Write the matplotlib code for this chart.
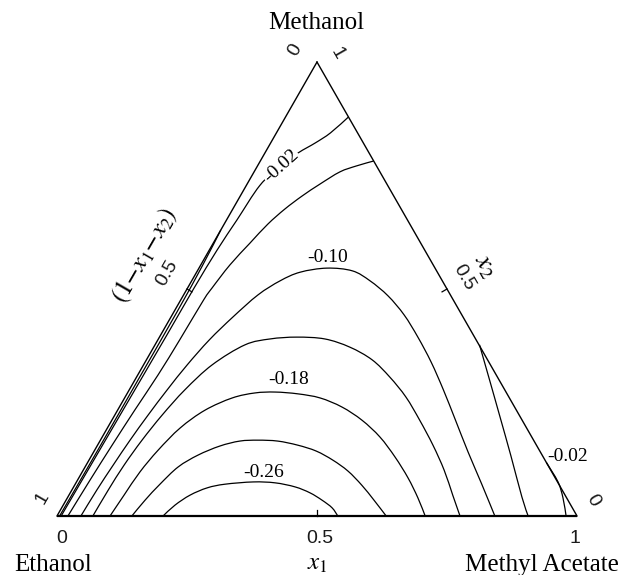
import matplotlib
matplotlib.use("Agg")
import matplotlib.pyplot as plt
from matplotlib.path import Path
from matplotlib.patches import PathPatch
import numpy as np

plt.rcParams['font.family'] = ['Liberation Serif', 'DejaVu Serif']
plt.rcParams['mathtext.fontset'] = 'stix'

# ---- data -------------------------------------------------------------
# vertex components: x1 = methyl acetate, x2 = methanol, 1-x1-x2 = ethanol
vertex_names = ["Ethanol", "Methyl Acetate", "Methanol"]
edge_tick_labels = ["0", "0.5", "1"]

# contour branches, each point is (x1, x2)
c02_upper = [(0.008, 0.0), (0.010, 0.2), (0.012, 0.4), (0.0125, 0.5),
             (0.015, 0.586), (0.020, 0.652), (0.026, 0.728), (0.044, 0.771),
             (0.064, 0.800), (0.086, 0.822), (0.104, 0.844), (0.121, 0.879)]
c02_edge = [(0.005, 0.0), (0.006, 0.15), (0.006, 0.30), (0.006, 0.45),
            (0.004, 0.55), (0.0, 0.63)]
c02_right = [(0.882, 0.118), (0.926, 0.075), (0.953, 0.040), (0.979, 0.0)]

c06_upper = [(0.021, 0.0), (0.024, 0.079), (0.028, 0.156), (0.033, 0.234),
             (0.039, 0.311), (0.042, 0.388), (0.044, 0.476), (0.047, 0.502),
             (0.056, 0.553), (0.0705, 0.601), (0.084, 0.643), (0.100, 0.676),
             (0.119, 0.705), (0.140, 0.731), (0.165, 0.758), (0.190, 0.771),
             (0.218, 0.782)]
c06_right = [(0.624, 0.377), (0.684, 0.297), (0.743, 0.218), (0.807, 0.132),
             (0.873, 0.042), (0.906, 0.0)]

c10 = [(0.046, 0.0), (0.048, 0.057), (0.052, 0.112), (0.057, 0.167),
       (0.064, 0.222), (0.073, 0.278), (0.084, 0.333), (0.099, 0.388),
       (0.119, 0.438), (0.143, 0.487), (0.170, 0.518), (0.199, 0.537),
       (0.246, 0.546), (0.298, 0.540), (0.343, 0.518), (0.394, 0.485),
       (0.446, 0.443), (0.497, 0.394), (0.550, 0.339), (0.604, 0.278),
       (0.660, 0.212), (0.720, 0.141), (0.781, 0.071), (0.842, 0.0)]
c14 = [(0.069, 0.0), (0.070, 0.057), (0.073, 0.112), (0.080, 0.167),
       (0.091, 0.222), (0.107, 0.278), (0.132, 0.333), (0.173, 0.377),
       (0.215, 0.390), (0.264, 0.394), (0.320, 0.390), (0.377, 0.372),
       (0.434, 0.344), (0.487, 0.306), (0.540, 0.262), (0.592, 0.211),
       (0.645, 0.156), (0.694, 0.101), (0.738, 0.046), (0.775, 0.0)]
c18 = [(0.102, 0.0), (0.106, 0.046), (0.111, 0.097), (0.122, 0.145),
       (0.140, 0.194), (0.168, 0.233), (0.207, 0.260), (0.245, 0.271),
       (0.283, 0.273), (0.329, 0.269), (0.376, 0.260), (0.428, 0.240),
       (0.481, 0.211), (0.534, 0.174), (0.585, 0.130), (0.633, 0.084),
       (0.674, 0.040), (0.708, 0.0)]
c22 = [(0.144, 0.0), (0.152, 0.035), (0.163, 0.070), (0.179, 0.108),
       (0.204, 0.134), (0.236, 0.154), (0.269, 0.165), (0.303, 0.167),
       (0.342, 0.165), (0.385, 0.156), (0.427, 0.143), (0.469, 0.123),
       (0.510, 0.099), (0.552, 0.068), (0.592, 0.035), (0.633, 0.0)]
c26 = [(0.204, 0.0), (0.215, 0.024), (0.233, 0.046), (0.258, 0.062),
       (0.288, 0.070), (0.340, 0.075), (0.383, 0.073), (0.426, 0.064),
       (0.461, 0.051), (0.492, 0.035), (0.520, 0.018), (0.540, 0.0)]

contour_lines = [(-0.02, c02_upper), (-0.02, c02_edge), (-0.02, c02_right),
                 (-0.06, c06_upper), (-0.06, c06_right),
                 (-0.10, c10), (-0.14, c14), (-0.18, c18),
                 (-0.22, c22), (-0.26, c26)]

# ---- ternary geometry ---------------------------------------------------
H = 0.873  # drawn height of the triangle relative to its base


def to_xy(x1, x2):
    x1 = np.asarray(x1, float)
    x2 = np.asarray(x2, float)
    return x1 + 0.5 * x2, H * x2


def smooth_path(xs, ys):
    """Cubic Bezier path passing through every given vertex (Catmull-Rom)."""
    p = np.column_stack([xs, ys])
    ext = np.vstack([p[0], p, p[-1]])
    verts = [p[0]]
    codes = [Path.MOVETO]
    for i in range(len(p) - 1):
        p0, p1, p2, p3 = ext[i], ext[i + 1], ext[i + 2], ext[i + 3]
        verts += [p1 + (p2 - p0) / 6.0, p2 - (p3 - p1) / 6.0, p2]
        codes += [Path.CURVE4] * 3
    return Path(verts, codes)


fig = plt.figure(figsize=(6.21, 5.75), dpi=100)
ax = fig.add_axes([0, 0, 1, 1])
ax.set_xlim(-0.1096, 1.0846)
ax.set_ylim(-0.1135, 0.9923)
ax.axis('off')

# triangle frame
bx, by = to_xy([0, 1], [0, 0])
ax.plot(bx, by, color='black', lw=1.6, solid_capstyle='butt')
lx, ly = to_xy([0, 0], [0, 1])
ax.plot(lx, ly, color='black', lw=1.0)
rx, ry = to_xy([1, 0], [0, 1])
ax.plot(rx, ry, color='black', lw=1.0)

# mid-edge ticks pointing into the triangle
tick_len = 0.011
for (t1, t2), (nx, ny) in [((0.5, 0.0), (0.0, 1.0)),
                           ((0.0, 0.5), (0.866, -0.5)),
                           ((0.5, 0.5), (-0.866, -0.5))]:
    tx, ty = to_xy(t1, t2)
    ax.plot([tx, tx + tick_len * nx], [ty, ty + tick_len * ny],
            color='black', lw=0.9)

# contour lines
for level, pts in contour_lines:
    arr = np.array(pts)
    cx, cy = to_xy(arr[:, 0], arr[:, 1])
    ax.add_patch(PathPatch(smooth_path(cx, cy), fill=False,
                           edgecolor='black', lw=0.9))

# contour labels
lab_kw = dict(fontsize=14, ha='center', va='center', color='black')
ax.text(0.4308, 0.673, "-0.02", rotation=42,
        bbox=dict(facecolor='white', edgecolor='none', pad=0.5), **lab_kw)
ax.text(0.5212, 0.498, "-0.10", **lab_kw)
ax.text(0.4448, 0.2629, "-0.18", **lab_kw)
ax.text(0.3967, 0.0833, "-0.26", **lab_kw)
ax.text(0.9813, 0.114, "-0.02", **lab_kw)

# tick labels along the edges
tick_kw = dict(family=['Liberation Sans', 'DejaVu Sans'], fontsize=14,
               ha='center', va='center', color='#1a1a1a')
for xpos, txt in zip([0.0096, 0.5058, 0.996], edge_tick_labels):
    ax.text(xpos, -0.0435, txt, **tick_kw)
ax.text(0.211, 0.4667, edge_tick_labels[1], rotation=60, **tick_kw)
ax.text(0.7827, 0.4577, edge_tick_labels[1], rotation=-60, **tick_kw)
ax.text(0.4577, 0.896, edge_tick_labels[0], rotation=60, **tick_kw)
ax.text(0.5379, 0.8898, edge_tick_labels[2], rotation=-60, **tick_kw)
ax.text(-0.0288, 0.0346, edge_tick_labels[2], rotation=60, **tick_kw)
ax.text(1.0308, 0.0308, edge_tick_labels[0], rotation=-60, **tick_kw)

# axis titles
ax.text(0.5, -0.0925, r"$x_1$", fontsize=18, ha='center', va='center')
ax.text(0.8212, 0.4788, r"$x_2$", fontsize=19, rotation=-60,
        ha='center', va='center')
ax.text(0.1692, 0.5, r"$(\mathit{1}{-}x_1{-}x_2)$", fontsize=18,
        rotation=60, ha='center', va='center')

# component names
name_kw = dict(fontsize=18, ha='center', va='center')
ax.text(-0.0077, -0.0942, vertex_names[0], **name_kw)
ax.text(0.9327, -0.0942, vertex_names[1], **name_kw)
ax.text(0.4994, 0.948, vertex_names[2], **name_kw)

fig.savefig("out.png", dpi=100)
